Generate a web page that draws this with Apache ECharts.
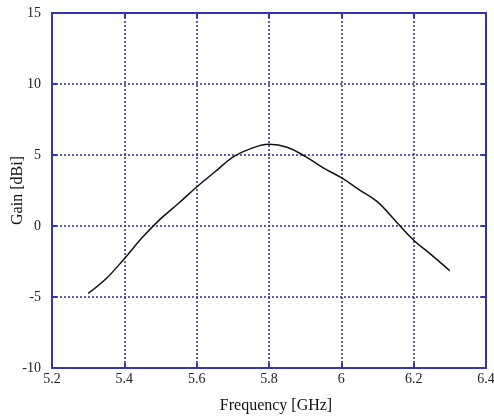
<!DOCTYPE html>
<html>
<head>
<meta charset="utf-8">
<script src="https://cdn.jsdelivr.net/npm/echarts@6/dist/echarts.min.js"></script>
<style>
html,body{margin:0;padding:0;background:#fff;}
#main{width:494px;height:418px;}
</style>
</head>
<body>
<div id="main"></div>
<script>
// data
var freq = [5.30, 5.35, 5.40, 5.45, 5.50, 5.55, 5.60, 5.65, 5.70, 5.75, 5.80,
            5.85, 5.90, 5.95, 6.00, 6.05, 6.10, 6.15, 6.20, 6.25, 6.30];
var gain = [-4.75, -3.7, -2.3, -0.8, 0.5, 1.6, 2.75, 3.8, 4.85, 5.45, 5.75,
            5.55, 4.9, 4.1, 3.4, 2.55, 1.7, 0.35, -1.0, -2.05, -3.15];
var xTicks = {min: 5.2, max: 6.4, step: 0.2};
var yTicks = {min: -10, max: 15, step: 5};

var axisBlue = '#3434b4';
var gridBlue = '#2e2e8e';
var font = '"Liberation Serif", "DejaVu Serif", serif';

var points = [];
for (var i = 0; i < freq.length; i++) {
	points.push([freq[i], gain[i]]);
}

var chart = echarts.init(document.getElementById('main'));
var option = {
	backgroundColor: '#fff',
	animation: false,
	grid: {
		left: 52, right: 8, top: 13, bottom: 50,
		outerBoundsMode: 'none',
		containLabel: false,
		show: true,
		borderColor: axisBlue,
		borderWidth: 2
	},
	xAxis: [{
		type: 'value',
		min: xTicks.min, max: xTicks.max, interval: xTicks.step,
		name: 'Frequency [GHz]',
		nameLocation: 'middle',
		nameGap: 30,
		nameTextStyle: {fontFamily: font, fontSize: 16, color: '#111', padding: [0, 0, 0, 14]},
		axisLine: {show: true, onZero: false, lineStyle: {color: axisBlue, width: 2}},
		axisTick: {show: true, inside: true, length: 5, lineStyle: {color: axisBlue, width: 2}},
		axisLabel: {fontFamily: font, fontSize: 14, color: '#222', margin: 4},
		splitLine: {show: true, lineStyle: {color: gridBlue, type: [2, 2], width: 1.5}}
	}, {
		type: 'value', position: 'top',
		min: xTicks.min, max: xTicks.max, interval: xTicks.step,
		axisLine: {show: false, onZero: false},
		axisTick: {show: true, inside: true, length: 5, lineStyle: {color: axisBlue, width: 2}},
		axisLabel: {show: false},
		splitLine: {show: false}
	}],
	yAxis: [{
		type: 'value',
		min: yTicks.min, max: yTicks.max, interval: yTicks.step,
		name: 'Gain [dBi]',
		nameLocation: 'middle',
		nameGap: 26,
		nameMoveOverlap: false,
		nameTextStyle: {fontFamily: font, fontSize: 16, color: '#111'},
		axisLine: {show: true, onZero: false, lineStyle: {color: axisBlue, width: 2}},
		axisTick: {show: true, inside: true, length: 5, lineStyle: {color: axisBlue, width: 2}},
		axisLabel: {fontFamily: font, fontSize: 14, color: '#222', margin: 11},
		splitLine: {show: true, lineStyle: {color: gridBlue, type: [2, 2], width: 1.5}}
	}, {
		type: 'value', position: 'right',
		min: yTicks.min, max: yTicks.max, interval: yTicks.step,
		axisLine: {show: false, onZero: false},
		axisTick: {show: true, inside: true, length: 5, lineStyle: {color: axisBlue, width: 2}},
		axisLabel: {show: false},
		splitLine: {show: false}
	}],
	series: [{
		name: 'Gain',
		type: 'line',
		data: points,
		smooth: 0.4,
		showSymbol: false,
		lineStyle: {color: '#111', width: 1.5}
	}]
};
chart.setOption(option);
</script>
</body>
</html>
